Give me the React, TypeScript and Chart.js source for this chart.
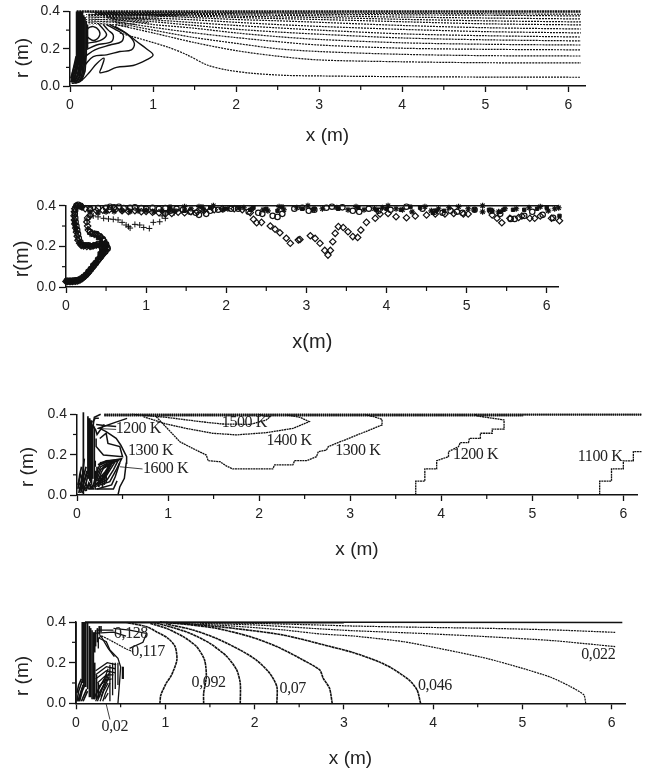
import React, { useEffect, useRef } from "react";
import { Chart, registerables } from "chart.js";
Chart.register(...registerables);

type P = number[][];

const xTicksMinor = [0.5, 1.5, 2.5, 3.5, 4.5, 5.5];
const yTicksMinor = [0.1, 0.3];

/* ---------- panel 1: stream function contours ---------- */
const p1Far: P[] = [
  [[.6,.285],[1.17,.21],[1.41,.167],[1.65,.113],[1.89,.086],[2.2,.068],[2.6,.057],[3,.054],[4,.05],[5,.048],[6.15,.047]],
  [[.55,.33],[1,.285],[1.5,.233],[2,.19],[2.5,.16],[3,.14],[4,.13],[5,.125],[6.15,.124]],
  [[.55,.34],[1,.3],[1.5,.26],[2,.229],[2.5,.2],[3,.185],[4,.17],[5,.163],[6.15,.161]],
  [[.5,.35],[1,.315],[1.5,.285],[2,.26],[2.5,.238],[3,.22],[4,.203],[5,.197],[6.15,.194]],
  [[.5,.36],[1,.33],[1.5,.31],[2,.285],[2.5,.265],[3,.25],[4,.232],[5,.224],[6.15,.22]],
  [[.45,.365],[1,.345],[1.5,.325],[2,.305],[2.5,.29],[3,.278],[4,.258],[5,.248],[6.15,.242]],
  [[.45,.37],[1,.355],[1.5,.34],[2,.325],[2.5,.312],[3,.3],[4,.28],[5,.27],[6.15,.263]],
  [[.4,.375],[1,.365],[1.5,.355],[2,.342],[2.5,.33],[3,.32],[4,.304],[5,.292],[6.15,.285]],
  [[.4,.38],[1,.375],[1.5,.367],[2,.357],[2.5,.35],[3,.342],[4,.325],[5,.313],[6.15,.306]],
  [[.35,.385],[1,.38],[1.5,.375],[2,.368],[2.5,.362],[3,.357],[4,.345],[5,.334],[6.15,.328]],
  [[.35,.388],[1,.384],[1.5,.38],[2,.375],[2.5,.371],[3,.368],[4,.358],[5,.35],[6.15,.344]],
  [[.3,.39],[1,.388],[2,.382],[3,.377],[4,.37],[5,.365],[6.15,.36]],
  [[.3,.393],[1,.391],[2,.388],[3,.385],[4,.382],[5,.38],[6.15,.376]],
  [[.25,.396],[1,.394],[2,.393],[3,.391],[4,.39],[5,.388],[6.15,.385]],
  [[.22,.37],[.6,.365],[1.1,.36]],[[.22,.36],[.6,.352],[.95,.34]],[[.22,.35],[.55,.342],[.8,.33]],[[.22,.34],[.5,.33],[.7,.32]],[[.22,.378],[.8,.378],[1.3,.375]],[[.22,.385],[.8,.385],[1.4,.382]],
];
const p1Hatch: P[] = [
  [[.2,.4],[.2,.3]],[[.24,.4],[.24,.33]],[[.28,.4],[.28,.33]],[[.32,.4],[.32,.33]],[[.36,.4],[.36,.33]],
  [[.4,.4],[.4,.33]],[[.44,.4],[.44,.33]],[[.48,.4],[.48,.33]],[[.52,.4],[.52,.34]],[[.56,.4],[.56,.34]],
  [[.6,.4],[.6,.34]],[[.64,.4],[.64,.34]],[[.68,.4],[.68,.345]],[[.72,.4],[.72,.345]],[[.76,.4],[.76,.35]],
  [[.8,.4],[.8,.35]],[[.84,.4],[.84,.355]],[[.88,.4],[.88,.355]],[[.92,.4],[.92,.36]],[[.96,.4],[.96,.36]],
  [[1,.4],[1,.365]],[[1.04,.4],[1.04,.365]],[[1.08,.4],[1.08,.37]],[[1.12,.4],[1.12,.37]],[[1.16,.4],[1.16,.375]],
  [[1.2,.4],[1.2,.375]],[[1.24,.4],[1.24,.38]],[[1.3,.4],[1.3,.385]],
];
const p1Loops: P[] = [
  [[.02,.014],[.12,.023],[.24,.077],[.32,.12],[.41,.149],[.38,.1],[.36,.072],[.44,.078],[.56,.1],[.76,.11],[.92,.14],[1,.167],[.92,.2],[.8,.24],[.72,.27],[.62,.3],[.54,.32]],
  [[.18,.113],[.28,.158],[.44,.167],[.6,.185],[.74,.194],[.775,.229],[.7,.274],[.58,.305],[.48,.33]],
  [[.18,.158],[.3,.194],[.48,.22],[.62,.238],[.64,.274],[.54,.305],[.44,.33]],
  [[.19,.194],[.32,.22],[.5,.238],[.52,.274],[.46,.3],[.4,.33]],
  [[.19,.229],[.36,.244],[.44,.274],[.4,.305],[.34,.335]],
  [[.21,.262],[.28,.244],[.35,.265],[.35,.297],[.28,.319],[.21,.305],[.21,.262]],
];
const p1Wall: P[] = [
  [[.08,.4],[.08,.13],[.06,.08],[.02,.03]],[[.09,.4],[.09,.12],[.06,.06],[.02,.02]],
  [[.1,.4],[.1,.12],[.07,.06],[.03,.02]],[[.115,.4],[.115,.12],[.09,.06],[.04,.02]],
  [[.13,.4],[.13,.13],[.1,.06],[.05,.02]],[[.14,.4],[.14,.13],[.11,.05],[.06,.015]],
  [[.15,.4],[.15,.13],[.12,.05],[.07,.015]],[[.165,.38],[.165,.14],[.14,.05],[.1,.02]],
  [[.18,.37],[.18,.16],[.16,.06],[.12,.025]],[[.195,.35],[.195,.17],[.18,.08],[.14,.03]],
  [[.21,.33],[.21,.2]],
  [[.06,.09],[.01,.02]],[[.07,.13],[.01,.04]],[[.075,.16],[.02,.05]],
];
const p1Top: P = [[.08,.4],[6.15,.4]];

/* ---------- panel 2: particle trajectories ---------- */
const p2Diamonds: P = [
  [0,.027],[.02,.027],[.04,.027],[.06,.027],[.08,.027],[.1,.028],[.12,.029],[.14,.03],[.16,.032],[.18,.036],[.2,.041],[.22,.047],[.24,.054],[.26,.062],[.28,.07],[.3,.08],[.32,.09],[.34,.1],[.36,.11],[.38,.12],[.4,.13],[.42,.14],[.44,.15],[.46,.16],[.48,.17],[.5,.18],[.51,.19],[.5,.2],[.49,.215],[.47,.23],[.44,.245],[.4,.255],[.36,.26],[.32,.265],[.28,.28],[.27,.3],[.26,.32],[.27,.34],[.3,.352],
  [.5,.205],[.46,.205],[.42,.207],[.38,.207],[.34,.203],[.3,.2],[.26,.2],[.22,.202],[.19,.205],[.17,.215],[.15,.23],[.14,.25],[.13,.27],[.12,.29],[.11,.31],[.105,.33],[.1,.35],[.105,.37],[.11,.385],[.125,.395],[.14,.4],[.17,.4],[.2,.395],[.24,.385],
  [.3,.38],[.38,.375],[.46,.378],[.54,.38],[.62,.382],[.7,.375],[.78,.372],[.86,.375],[.94,.37],[1,.372],[1.08,.368],[1.16,.365],[1.24,.36],[1.32,.362],[1.4,.368],[1.48,.365],[1.56,.37],[1.64,.37],[1.72,.375],[1.85,.38],[1.95,.385],[2.1,.385],[2.2,.38],
  [2.3,.366],[2.34,.333],[2.38,.316],[2.44,.318],[2.55,.3],[2.61,.284],[2.67,.267],[2.75,.24],[2.8,.215],[2.9,.231],[2.92,.234],[3.05,.252],[3.11,.239],[3.17,.215],[3.23,.18],[3.27,.157],[3.3,.18],[3.33,.223],[3.36,.264],[3.4,.297],[3.46,.293],[3.52,.272],[3.58,.248],[3.64,.244],[3.68,.28],[3.75,.318],[3.86,.338],[3.92,.359],[4.02,.362],[4.12,.346],[4.25,.341],[4.36,.349],[4.5,.354],[4.61,.359],[4.73,.359],[4.84,.362],[4.96,.359],[5.02,.359],[5.32,.354],[5.38,.338],[5.44,.316],[5.54,.338],[5.65,.342],[5.69,.349],[5.79,.338],[5.85,.338],[5.92,.349],[6.06,.338],[6.16,.326],
];
const p2Circles: P = [
  [.01,.03],[.04,.03],[.07,.03],[.1,.032],[.13,.033],[.16,.036],[.19,.042],[.22,.05],[.25,.06],[.28,.075],[.31,.088],[.34,.105],[.37,.118],[.4,.135],[.43,.148],[.46,.165],[.49,.175],[.52,.19],[.5,.21],[.46,.235],[.42,.25],[.38,.26],[.34,.262],[.3,.27],
  [.48,.2],[.44,.2],[.4,.21],[.36,.205],[.32,.2],[.28,.205],[.24,.205],[.2,.208],[.18,.22],[.16,.24],[.15,.26],[.14,.28],[.13,.3],[.12,.32],[.115,.34],[.11,.36],[.115,.38],[.13,.4],[.15,.405],[.18,.4],
  [.3,.385],[.4,.388],[.5,.39],[.55,.395],[.6,.392],[.66,.395],[.72,.388],[.8,.39],[.86,.392],[.94,.388],[1,.385],[1.08,.39],[1.16,.385],[1.24,.388],[1.3,.375],[1.38,.385],[1.46,.38],[1.55,.37],[1.62,.365],[1.66,.355],[1.75,.36],[1.8,.375],[1.9,.38],[2.06,.385],[2.15,.385],[2.28,.37],[2.4,.365],[2.45,.36],[2.58,.35],[2.64,.345],[2.7,.36],[2.85,.385],[2.95,.39],[3.03,.375],[3.1,.38],[3.25,.39],[3.32,.395],[3.45,.392],[3.58,.375],[3.66,.37],[3.78,.385],[3.9,.375],[4.05,.38],[4.25,.395],[4.45,.385],[4.6,.37],[4.7,.365],[4.8,.375],[4.88,.37],[4.95,.365],[5.1,.38],[5.3,.375],[5.42,.36],[5.55,.335],[5.6,.335],[5.72,.35],[5.82,.37],[5.95,.355],[6.08,.34],
];
const p2Plus: P = [
  [.05,.028],[.1,.03],[.15,.032],[.2,.045],[.24,.058],[.29,.08],[.33,.1],[.37,.12],[.41,.14],[.45,.16],[.48,.18],[.49,.2],[.45,.24],[.4,.25],[.35,.255],[.3,.26],[.27,.285],[.26,.33],[.3,.345],[.34,.35],[.4,.345],[.47,.338],[.53,.335],[.59,.333],[.65,.33],[.7,.318],[.75,.305],[.78,.297],[.8,.29],[.86,.308],[.92,.305],[.97,.293],[1.04,.288],[1.09,.318],[1.17,.321],[1.24,.338],[1.24,.359],[1.2,.35],[1.28,.37],[1.35,.365],
];
const p2Stars: P = [
  [.2,.39],[.3,.37],[.4,.365],[.5,.37],[.6,.372],[.7,.375],[.8,.372],[.9,.375],[1,.375],[1.1,.37],[1.2,.375],[1.3,.38],[1.36,.375],[1.48,.395],[1.56,.385],[1.66,.395],[1.72,.38],[1.84,.4],[1.96,.38],[2.02,.385],[2.22,.39],[2.32,.385],[2.46,.38],[2.52,.375],[2.66,.395],[2.72,.38],[2.88,.39],[3.02,.4],[3.08,.38],[3.2,.385],[3.38,.39],[3.52,.38],[3.62,.395],[3.72,.38],[3.85,.385],[3.95,.39],[4.02,.4],[4.12,.385],[4.2,.38],[4.32,.37],[4.48,.395],[4.56,.375],[4.65,.385],[4.78,.39],[4.9,.395],[5.02,.385],[5.2,.4],[5.2,.37],[5.32,.375],[5.4,.37],[5.48,.385],[5.62,.385],[5.78,.39],[5.92,.395],[6.02,.375],[6.1,.385],[6.15,.39],
];
const p2Squares: P = [
  [1.3,.395],[1.48,.375],[1.7,.395],[1.8,.39],[1.98,.385],[2.16,.39],[2.3,.38],[2.34,.39],[2.5,.385],[2.64,.375],[2.7,.395],[2.95,.385],[3.1,.385],[3.4,.385],[3.65,.39],[3.88,.38],[4.0,.385],[4.18,.38],[4.3,.395],[4.42,.39],[4.58,.365],[4.62,.375],[4.72,.375],[5.1,.38],[5.28,.38],[5.42,.37],[5.46,.38],[5.58,.38],[5.72,.38],[5.88,.385],[6.0,.39],[6.16,.35],
  [.12,.03],[.15,.033],[.18,.04],[.21,.048],[.24,.06],[.27,.07],[.3,.085],[.33,.1],[.36,.115],[.39,.13],[.42,.145],[.45,.16],[.48,.175],[.5,.19],[.46,.205],[.42,.205],[.38,.205],[.34,.205],[.3,.205],[.26,.205],[.22,.205],[.18,.215],[.12,.28],[.11,.3],[.1,.32],
  [.02,.027],[.05,.027],[.08,.027],[.42,.165],[.44,.18],[.47,.195],[.44,.22],[.4,.24],
];
const p2Top: P = [[.14,.4],[6.15,.4]];

/* ---------- panel 3: temperature contours ---------- */
const p3Far: P[] = [
  [[.87,.388],[1.13,.264],[1.27,.231],[1.42,.198],[1.44,.17],[1.57,.165],[1.64,.144],[1.71,.129],[2.15,.129],[2.17,.149],[2.37,.149],[2.39,.17],[2.52,.17],[2.63,.19],[2.65,.215],[2.74,.223],[2.76,.24],[3.35,.347],[3.35,.375],[3.26,.388],[3.15,.4]],
  [[.73,.388],[.98,.352],[1.2,.33],[1.49,.306],[1.75,.298],[2.08,.309],[2.37,.33],[2.55,.364],[2.45,.385],[2.3,.397]],
  [[.6,.4],[.98,.385],[1.35,.364],[1.59,.352],[1.9,.35],[2.08,.372],[2.12,.388],[1.98,.4]],
  [[3.72,0],[3.72,.069],[3.82,.069],[3.82,.129],[3.95,.129],[3.95,.17],[4.08,.19],[4.08,.215],[4.19,.24],[4.21,.26],[4.3,.26],[4.31,.281],[4.43,.281],[4.43,.306],[4.56,.306],[4.56,.327],[4.69,.327],[4.69,.372],[4.39,.392],[4.37,.4]],
  [[5.74,0],[5.74,.069],[5.87,.069],[5.87,.129],[6,.129],[6,.169],[6.11,.169],[6.11,.215],[6.2,.215]],
];
const p3Top: P[] = [[[.3,.4],[6.2,.4]],[[.3,.396],[6.2,.396]],[[.3,.393],[4.9,.393]]];
const p3Near: P[] = [
  [[.45,0],[.47,.04],[.52,.083],[.54,.157],[.545,.19],[.48,.248],[.43,.281],[.32,.314],[.25,.33]],
  [[.21,.28],[.21,.24],[.29,.198],[.5,.19],[.47,.24],[.34,.256],[.32,.306],[.25,.28]],
  [[.14,.033],[.36,.066],[.43,.124],[.49,.18],[.36,.17],[.25,.149],[.21,.107],[.18,.05],[.14,.033]],
  [[.16,.04],[.33,.075],[.4,.125],[.45,.17],[.34,.16],[.26,.14],[.22,.1],[.19,.055]],
  [[.18,.045],[.3,.08],[.37,.13],[.42,.165],[.32,.15],[.26,.125],[.23,.09],[.2,.06]],
  [[.2,.05],[.28,.085],[.34,.13],[.39,.16],[.3,.14],[.27,.115],[.24,.08]],
  [[.22,.07],[.3,.11],[.36,.15],[.28,.13]],[[.24,.06],[.32,.1],[.38,.155]],[[.26,.07],[.33,.12],[.4,.17]],
  [[.25,.16],[.33,.165],[.41,.165]],[[.23,.15],[.32,.17],[.47,.175]],
  [[.22,.03],[.38,.05],[.42,.09],[.47,.16]],
  [[.2,.06],[.2,.03],[.4,.03],[.44,.07]],
  [[.23,.33],[.42,.36],[.55,.38]],
  [[.21,.35],[.3,.345],[.43,.34]],
  [[.24,.38],[.2,.38],[.17,.36]],
  [[.26,.4],[.19,.385],[.18,.35],[.18,.33]],
  [[.2,.33],[.22,.3],[.3,.35]],
];
const p3Wall: P[] = [
  [[.07,0],[.07,.41]],[[.12,.1],[.12,.39]],[[.13,.08],[.13,.38]],[[.14,.07],[.14,.38]],[[.15,.06],[.15,.37]],[[.16,.05],[.16,.37]],[[.17,.08],[.17,.35]],[[.19,.08],[.19,.34]],
  [[.01,.03],[.03,.1],[.05,.14]],[[.02,.01],[.06,.1],[.08,.18]],[[.04,.01],[.08,.07],[.11,.12]],[[.01,.05],[.04,.1],[.06,.08]],[[.06,.01],[.1,.06],[.12,.1]],[[.08,.03],[.14,.05],[.15,.03]],[[.02,.06],[.05,.04],[.1,.02]],[[.09,.06],[.13,.03],[.19,.03]],
  [[.03,.02],[.07,.09],[.1,.14]],[[.05,.03],[.09,.08],[.12,.12]],[[.1,.02],[.13,.06],[.16,.04]],
  [[.2,.06],[.2,.12]],[[.22,.08],[.22,.14]],[[.24,.04],[.24,.08]],[[.26,.05],[.26,.09]],[[.28,.04],[.28,.1]],[[.3,.05],[.3,.11]],[[.32,.06],[.32,.12]],[[.2,.14],[.2,.17]],
];
const p3Leaders: P[] = [[[.47,.14],[.72,.129]],[[.22,.33],[.43,.325]]];

/* ---------- panel 4: mixture fraction contours ---------- */
const p4Far: P[] = [
  [[.94,0],[.95,.04],[1.01,.098],[1.07,.139],[1.13,.213],[1.11,.279],[1.03,.32],[.9,.352],[.79,.377],[.57,.397]],
  [[1.43,0],[1.43,.05],[1.46,.131],[1.44,.213],[1.35,.279],[1.2,.328],[1.01,.369],[.83,.393]],
  [[1.84,0],[1.84,.098],[1.8,.164],[1.69,.23],[1.5,.295],[1.28,.344],[1.05,.377],[.87,.397]],
  [[2.25,0],[2.25,.082],[2.17,.148],[2.02,.213],[1.84,.262],[1.57,.32],[1.31,.361],[1.01,.39]],
  [[2.87,0],[2.84,.074],[2.77,.123],[2.73,.164],[2.51,.221],[2.25,.279],[1.95,.328],[1.57,.369],[1.2,.39],[.94,.4]],
  [[3.86,0],[3.82,.066],[3.73,.115],[3.54,.172],[3.39,.205],[3.11,.249],[2.85,.279],[2.32,.336],[1.76,.369],[1.39,.385],[1.01,.397]],
];
const p4Thin: P[] = [
  [[5.71,0],[5.69,.041],[5.54,.082],[5.32,.128],[4.98,.175],[4.6,.221],[4.16,.262],[3.67,.303],[3.11,.331],[2.74,.341],[2.32,.361],[1.76,.38],[1.2,.393]],
  [[6.04,.279],[5.35,.308],[4.6,.328],[3.86,.344],[3.11,.357],[2.74,.366],[2.03,.385],[1.39,.393]],
  [[6.04,.349],[5.35,.361],[4.6,.369],[3.86,.374],[3.11,.38],[2.74,.385],[2.03,.393],[1.5,.397]],
  [[.23,.344],[.38,.311],[.57,.266],[.64,.254]],
];
const p4Top: P[] = [[[.1,.4],[6.12,.398]],[[.1,.396],[3,.396]]];
const p4Near: P[] = [
  [[.26,.32],[.34,.303],[.38,.262],[.47,.221],[.5,.18],[.49,.115],[.47,0]],
  [[.25,.27],[.25,.32],[.28,.33],[.36,.27],[.43,.23]],
  [[.42,.369],[.6,.36],[.79,.344],[.75,.3],[.6,.27]],
  [[.23,.36],[.42,.36]],
  [[.23,.345],[.42,.35],[.56,.33]],
  [[.53,.12],[.53,.18]],[[.52,.12],[.52,.18]],
  [[.47,.2],[.47,.09]],[[.44,.2],[.44,.07]],[[.41,.2],[.41,.04]],[[.38,.19],[.38,.01]],
  [[.22,.16],[.35,.2],[.45,.19]],[[.22,.14],[.34,.18],[.44,.17]],[[.22,.12],[.34,.16],[.44,.15]],[[.24,.1],[.34,.14],[.42,.14]],[[.25,.08],[.32,.11],[.4,.12]],
  [[.2,.02],[.26,.08],[.32,.12],[.36,.17]],[[.24,.01],[.29,.07],[.33,.1],[.38,.16]],[[.27,.01],[.31,.06],[.36,.1]],[[.3,.01],[.33,.05],[.38,.1]],[[.32,.02],[.36,.05]],
  [[.22,.04],[.28,.09],[.34,.14]],[[.26,.03],[.3,.08],[.35,.14]],[[.28,.03],[.32,.08],[.37,.13]],[[.22,.01],[.27,.06],[.31,.09]],
];
const p4Wall: P[] = [
  [[.0,0],[.0,.4]],[[.07,.1],[.07,.4]],[[.08,.1],[.08,.4]],[[.09,.1],[.09,.4]],[[.1,.09],[.1,.4]],[[.11,.08],[.11,.4]],[[.13,.07],[.13,.4]],
  [[.01,.01],[.03,.06],[.07,.11]],[[.02,.01],[.05,.05],[.08,.09]],[[.04,.01],[.07,.06],[.1,.09]],[[.06,.01],[.09,.04],[.12,.07]],[[.01,.05],[.03,.09],[.06,.12]],
  [[.03,.01],[.06,.06],[.09,.1]],[[.08,.01],[.11,.04],[.13,.06]],
  [[.15,.03],[.15,.38]],[[.165,.03],[.165,.37]],[[.18,.02],[.18,.36]],[[.195,.02],[.195,.35]],[[.21,.02],[.21,.2]],[[.21,.25],[.21,.35]],[[.23,.02],[.23,.14]],[[.25,.02],[.25,.1]],
  [[.22,.28],[.22,.36]],[[.24,.3],[.24,.37]],[[.26,.34],[.26,.38]],[[.28,.35],[.28,.38]],
];
const p4Leaders: P[] = [[[.336,0],[.38,-.08]]];

const p3Notes: [string, number, number][] = [
  ["1500 K", 1.59, .359], ["1400 K", 2.08, .269], ["1200 K", .425, .326], ["1300 K", .56, .22], ["1600 K", .725, .129],
  ["1300 K", 2.835, .22], ["1200 K", 4.13, .198], ["1100 K", 5.5, .187],
];
const p4Notes: [string, number, number][] = [
  ["0,128", .425, .344], ["0,117", .62, .254], ["0,092", 1.295, .102], ["0,07", 2.28, .069], ["0,046", 3.83, .085], ["0,022", 5.66, .238], ["0,02", .287, -.118],
];

const pts = (a: P) => a.map(([x, y]) => ({ x, y }));
const ink = "#111";
const line = (a: P, w = 1.2, dash: number[] = [], tension = 0) => ({
  type: "line", data: pts(a), borderColor: ink, borderWidth: w, borderDash: dash,
  pointRadius: 0, tension, clip: false, parsing: false, fill: false,
});
const marks = (a: P, style: string, r: number, fill = "rgba(0,0,0,0)", w = 1) => ({
  type: "scatter", data: pts(a), pointStyle: style, pointRadius: r, borderColor: ink, backgroundColor: fill,
  pointBorderColor: ink, pointBackgroundColor: fill, pointBorderWidth: w, clip: false, showLine: false,
});

const panels = [
  {
    x0: 70, xEnd: 585, xMax: 6.2, yTop: 11.5, yBot: 86, xTitle: "x (m)", yTitle: "r (m)", xDist: 50, yTitleX: 23, yTitleY: 58, titleSize: 19,
    notes: [] as [string, number, number][],
    datasets: [
      ...p1Far.map((a) => line(a, 1.2, [2, 1], 0.3)), ...p1Hatch.map((a) => line(a, 1.1, [1, 1.5])), ...p1Loops.map((a) => line(a, 1.4, [], 0.35)),
      ...p1Wall.map((a) => line(a, 1.8)), line(p1Top, 2.6, [2, 0.6]),
    ],
  },
  {
    x0: 66, xEnd: 558.7, xMax: 6.15, yTop: 205.7, yBot: 287, xTitle: "x(m)", yTitle: "r(m)", xDist: 55, yTitleX: 22, yTitleY: 259, titleSize: 20,
    notes: [] as [string, number, number][],
    datasets: [
      line(p2Top, 1.6), marks(p2Diamonds, "rectRot", 3.2, "rgba(0,0,0,0)", 1.2), marks(p2Circles, "circle", 2.7, "rgba(0,0,0,0)", 1.2), marks(p2Plus, "cross", 3),
      marks(p2Stars, "star", 3, "rgba(0,0,0,0)", 1.2), marks(p2Squares, "rect", 2.4, ink),
    ],
  },
  {
    x0: 77, xEnd: 637, xMax: 6.15, yTop: 414.3, yBot: 495, xTitle: "x (m)", yTitle: "r (m)", xDist: 55, yTitleX: 28, yTitleY: 467, titleSize: 19,
    notes: p3Notes,
    datasets: [
      ...p3Far.map((a) => line(a, 1.3, [2, 0.6])), ...p3Top.map((a) => line(a, 1.5, [1.5, 0.6])), ...p3Near.map((a) => line(a, 1.5)),
      ...p3Wall.map((a) => line(a, 1.7)), ...p3Leaders.map((a) => line(a, 0.8)),
    ],
  },
  {
    x0: 76, xEnd: 625, xMax: 6.15, yTop: 622, yBot: 703.3, xTitle: "x (m)", yTitle: "r (m)", xDist: 55, yTitleX: 23, yTitleY: 676, titleSize: 19,
    notes: p4Notes,
    datasets: [
      ...p4Far.map((a) => line(a, 1.6, [3, 0.5], 0.25)), ...p4Thin.map((a) => line(a, 1.2, [2, 0.8], 0.2)), ...p4Top.map((a) => line(a, 1.5)),
      ...p4Near.map((a) => line(a, 1.3)), ...p4Wall.map((a) => line(a, 1.6)), ...p4Leaders.map((a) => line(a, 0.8)),
    ],
  },
];

const tickFont = { family: "'Liberation Sans', Arial, sans-serif", size: 14 };

function Panel({ spec }: { spec: (typeof panels)[number] }) {
  const ref = useRef<HTMLCanvasElement>(null);
  const top = Math.floor(spec.yTop) - 14;
  const lh = spec.titleSize * 1.2;
  const height = Math.ceil(spec.yBot + spec.xDist + lh / 2 + 2) - top;
  const xAxisH = top + height - spec.yBot;
  useEffect(() => {
    const overlay = {
      id: "overlay",
      afterDraw(c: any) {
        const { ctx, scales } = c;
        ctx.save();
        ctx.strokeStyle = ink;
        ctx.lineWidth = 1.2;
        const xs = scales.x, ys = scales.y;
        for (const v of xTicksMinor) {
          const px = xs.getPixelForValue(v);
          ctx.beginPath(); ctx.moveTo(px, ys.bottom); ctx.lineTo(px, ys.bottom + 4); ctx.stroke();
        }
        for (const v of yTicksMinor) {
          const py = ys.getPixelForValue(v);
          ctx.beginPath(); ctx.moveTo(xs.left, py); ctx.lineTo(xs.left - 4, py); ctx.stroke();
        }
        ctx.fillStyle = "#222";
        ctx.font = "16px 'Liberation Serif', 'Times New Roman', serif";
        ctx.textAlign = "left";
        ctx.textBaseline = "middle";
        (ctx as any).letterSpacing = "-0.4px";
        for (const [t, x, r] of spec.notes) ctx.fillText(t, xs.getPixelForValue(x), ys.getPixelForValue(r));
        (ctx as any).letterSpacing = "0px";
        ctx.translate(spec.yTitleX, spec.yTitleY - top);
        ctx.rotate(-Math.PI / 2);
        ctx.textAlign = "center";
        ctx.font = `${spec.titleSize}px 'Liberation Sans', Arial, sans-serif`;
        ctx.fillText(spec.yTitle, 0, 0);
        ctx.restore();
      },
    };
    const chart = new Chart(ref.current!, {
      type: "scatter",
      data: { datasets: spec.datasets as any },
      plugins: [overlay],
      options: {
        responsive: false,
        animation: false,
        layout: { padding: { left: 0, right: 653 - spec.xEnd, top: spec.yTop - top, bottom: 0 } },
        plugins: { legend: { display: false }, tooltip: { enabled: false } },
        scales: {
          x: {
            type: "linear", min: 0, max: spec.xMax,
            afterFit(s: any) { s.height = xAxisH; },
            border: { display: true, color: ink, width: 1.5 },
            grid: { drawOnChartArea: false, drawTicks: true, tickLength: 6, tickColor: ink, tickWidth: 1.3 },
            ticks: { stepSize: 1, includeBounds: false, autoSkip: false, maxRotation: 0, color: "#222", font: tickFont, padding: 5, callback: (v: any) => String(v) },
            title: { display: true, text: spec.xTitle, color: "#222", font: { family: tickFont.family, size: spec.titleSize }, padding: { top: 0, bottom: xAxisH - spec.xDist - lh / 2 } },
          },
          y: {
            type: "linear", min: 0, max: 0.4,
            afterFit(s: any) { s.width = spec.x0; },
            border: { display: true, color: ink, width: 1.5 },
            grid: { drawOnChartArea: false, drawTicks: true, tickLength: 7, tickColor: ink, tickWidth: 1.3 },
            ticks: { stepSize: 0.2, includeBounds: false, color: "#222", font: tickFont, padding: 3, callback: (v: any) => Number(v).toFixed(1) },
          },
        },
      },
    } as any);
    return () => chart.destroy();
  }, []);
  return <canvas ref={ref} width={653} height={height} style={{ position: "absolute", left: 0, top, width: 653, height }} />;
}

export default function App() {
  return (
    <div style={{ position: "absolute", left: 0, top: 0, width: 653, height: 773, background: "#fff", overflow: "hidden" }}>
      {panels.map((p, i) => (
        <Panel key={i} spec={p} />
      ))}
    </div>
  );
}
